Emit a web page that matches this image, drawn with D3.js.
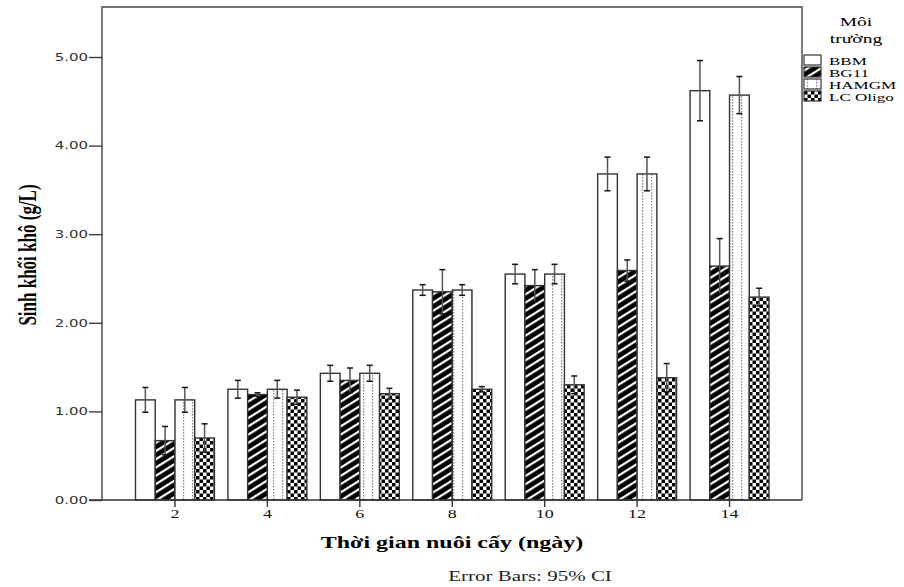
<!DOCTYPE html>
<html>
<head>
<meta charset="utf-8">
<script src="https://cdn.jsdelivr.net/npm/d3@7"></script>
<style>
  body { margin: 0; background: #fff; }
  svg { display: block; }
</style>
</head>
<body>
<svg width="904" height="587"></svg>
<script>
// data
var days = ["2", "4", "6", "8", "10", "12", "14"];
var series = ["BBM", "BG11", "HAMGM", "LC Oligo"];
var bbm   = [1.13, 1.25, 1.43, 2.37, 2.55, 3.68, 4.62];
var bg11  = [0.67, 1.19, 1.35, 2.35, 2.42, 2.59, 2.64];
var hamgm = [1.13, 1.25, 1.43, 2.37, 2.55, 3.68, 4.57];
var lc    = [0.70, 1.16, 1.20, 1.25, 1.30, 1.38, 2.29];
// half width of the 95% CI
var bbmErr   = [0.14, 0.10, 0.09, 0.06, 0.11, 0.19, 0.34];
var bg11Err  = [0.16, 0.02, 0.14, 0.25, 0.18, 0.12, 0.31];
var hamgmErr = [0.14, 0.10, 0.09, 0.06, 0.11, 0.19, 0.21];
var lcErr    = [0.16, 0.08, 0.06, 0.03, 0.10, 0.16, 0.10];
var yTicks = [0, 1, 2, 3, 4, 5];

var values = [bbm, bg11, hamgm, lc];
var errs = [bbmErr, bg11Err, hamgmErr, lcErr];
var fills = ["#fff", "url(#diag)", "url(#dots)", "url(#check)"];

var rows = [];
days.forEach(function(d, i) {
  series.forEach(function(s, j) {
    rows.push({day: d, s: s, j: j, v: values[j][i], e: errs[j][i]});
  });
});

var svg = d3.select("svg");
var sx = 1.5; // the picture's text is stretched wide
var serif = "'Liberation Serif', 'Times New Roman', serif";
var sans = "'DejaVu Sans', Verdana, sans-serif";

// patterns
var defs = svg.append("defs");
var p1 = defs.append("pattern").attr("id", "diag")
    .attr("patternUnits", "userSpaceOnUse").attr("width", 8).attr("height", 7)
    .attr("patternTransform", "rotate(-32)");
p1.append("rect").attr("width", 8).attr("height", 7).attr("fill", "#000");
p1.append("rect").attr("y", 2).attr("width", 8).attr("height", 2.2).attr("fill", "#fff");

var p2 = defs.append("pattern").attr("id", "dots")
    .attr("patternUnits", "userSpaceOnUse").attr("width", 9).attr("height", 3);
p2.append("rect").attr("width", 9).attr("height", 3).attr("fill", "#fff");
p2.append("rect").attr("x", 3).attr("width", 1.2).attr("height", 1.6).attr("fill", "#888");

var p3 = defs.append("pattern").attr("id", "check")
    .attr("patternUnits", "userSpaceOnUse").attr("width", 7).attr("height", 7);
p3.append("rect").attr("width", 7).attr("height", 7).attr("fill", "#fff");
p3.append("rect").attr("width", 3.5).attr("height", 3.5).attr("fill", "#000");
p3.append("rect").attr("x", 3.5).attr("y", 3.5).attr("width", 3.5).attr("height", 3.5).attr("fill", "#000");

// scales
var plotL = 102, plotR = 802, plotT = 7, plotB = 500;
var y = d3.scaleLinear().domain([0, 5]).range([plotB, 57]);
var x = d3.scaleBand().domain(days).range([128.75, 775.75])
    .paddingInner(0.146).paddingOuter(0.073);
var xs = d3.scaleBand().domain(series).range([0, x.bandwidth()]);

// bars
var bars = svg.append("g").attr("class", "bars");
bars.selectAll("rect")
  .data(rows)
  .enter().append("rect")
    .attr("x", function(d) { return x(d.day) + xs(d.s); })
    .attr("y", function(d) { return y(d.v); })
    .attr("width", xs.bandwidth())
    .attr("height", function(d) { return y(0) - y(d.v); })
    .attr("fill", function(d) { return fills[d.j]; })
    .attr("stroke", "#333")
    .attr("stroke-width", 1.4);

// error bars
var eb = svg.append("g").attr("class", "errbars");
var ebg = eb.selectAll("g").data(rows).enter().append("g")
    .attr("transform", function(d) { return "translate(" + (x(d.day) + xs(d.s) + xs.bandwidth() / 2) + ",0)"; });
ebg.append("line")
    .attr("y1", function(d) { return y(d.v + d.e); })
    .attr("y2", function(d) { return y(d.v - d.e); })
    .attr("stroke", "#555").attr("stroke-width", 1.5);
ebg.append("line")
    .attr("x1", -3).attr("x2", 3)
    .attr("y1", function(d) { return y(d.v + d.e); })
    .attr("y2", function(d) { return y(d.v + d.e); })
    .attr("stroke", "#111").attr("stroke-width", 1.5);
ebg.append("line")
    .attr("x1", -3).attr("x2", 3)
    .attr("y1", function(d) { return y(d.v - d.e); })
    .attr("y2", function(d) { return y(d.v - d.e); })
    .attr("stroke", "#111").attr("stroke-width", 1.5);

// frame
svg.append("path")
    .attr("d", "M" + plotL + "," + plotB + "V" + plotT + "H" + plotR + "V" + plotB)
    .attr("fill", "none").attr("stroke", "#444").attr("stroke-width", 1.4);

// y axis
var yAxis = svg.append("g")
    .attr("transform", "translate(" + plotL + ",0)")
    .call(d3.axisLeft(y).tickValues(yTicks).tickSize(13).tickSizeOuter(0).tickFormat(d3.format(".2f")));
yAxis.select(".domain").remove();
yAxis.selectAll(".tick line").attr("stroke", "#333").attr("stroke-width", 1.3);
yAxis.selectAll(".tick text")
    .attr("x", null)
    .attr("transform", "translate(-14,0) scale(" + sx + ",1)")
    .attr("font-family", sans).attr("font-size", 10).attr("fill", "#333");

// x axis
var xAxis = svg.append("g")
    .attr("transform", "translate(0," + plotB + ")")
    .call(d3.axisBottom(x).tickSize(7).tickSizeOuter(0));
xAxis.select(".domain").remove();
svg.append("line")
    .attr("x1", plotL - 13).attr("x2", plotR)
    .attr("y1", plotB).attr("y2", plotB)
    .attr("stroke", "#333").attr("stroke-width", 1.4);
xAxis.selectAll(".tick line").attr("stroke", "#333").attr("stroke-width", 1.4);
xAxis.selectAll(".tick text")
    .attr("y", null).attr("dy", null)
    .attr("transform", "translate(0,18) scale(" + sx + ",1)")
    .attr("font-family", serif).attr("font-size", 12).attr("fill", "#111");

// titles
svg.append("text")
    .attr("transform", "translate(452,548) scale(" + sx + ",1)")
    .attr("text-anchor", "middle")
    .attr("font-family", serif).attr("font-size", 16).attr("font-weight", "bold")
    .text("Thời gian nuôi cấy (ngày)");

svg.append("text")
    .attr("transform", "translate(36,255) scale(" + sx + ",1) rotate(-90)")
    .attr("text-anchor", "middle")
    .attr("font-family", serif).attr("font-size", 17).attr("font-weight", "bold")
    .text("Sinh khối khô (g/L)");

svg.append("text")
    .attr("transform", "translate(530,581) scale(" + sx + ",1)")
    .attr("text-anchor", "middle")
    .attr("font-family", serif).attr("font-size", 14).attr("fill", "#222")
    .text("Error Bars: 95% CI");

// legend
var legend = svg.append("g").attr("class", "legend");
legend.append("text")
    .attr("transform", "translate(856,26) scale(" + sx + ",1)")
    .attr("text-anchor", "middle")
    .attr("font-family", serif).attr("font-size", 13)
    .text("Môi");
legend.append("text")
    .attr("transform", "translate(856,43) scale(" + sx + ",1)")
    .attr("text-anchor", "middle")
    .attr("font-family", serif).attr("font-size", 13)
    .text("trường");

var item = legend.selectAll("g.item")
  .data(series)
  .enter().append("g")
    .attr("class", "item")
    .attr("transform", function(d, i) { return "translate(804," + (55 + i * 12) + ")"; });
item.append("rect")
    .attr("width", 17).attr("height", 10)
    .attr("fill", function(d, i) { return fills[i]; })
    .attr("stroke", "#333").attr("stroke-width", 1.2);
item.append("text")
    .attr("transform", "translate(25,9.5) scale(1.42,0.92)")
    .attr("font-family", serif).attr("font-size", 12)
    .text(function(d) { return d; });
</script>
</body>
</html>
